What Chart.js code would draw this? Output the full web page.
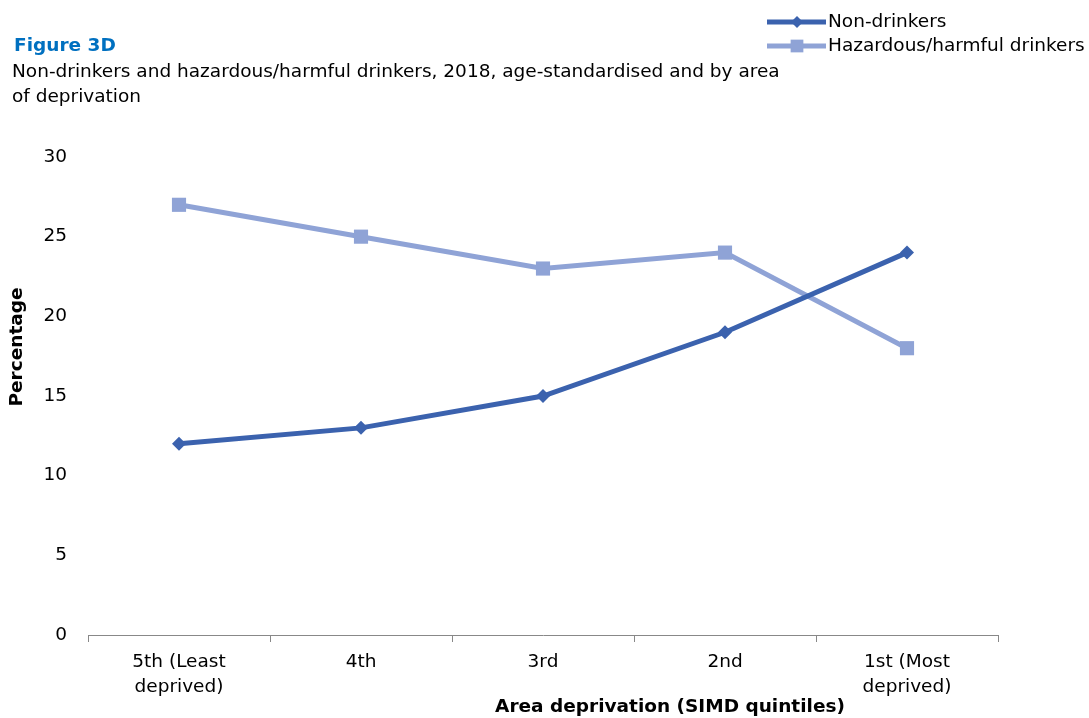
<!DOCTYPE html>
<html>
<head>
<meta charset="utf-8">
<script src="https://cdn.jsdelivr.net/npm/chart.js@4.4.0/dist/chart.umd.min.js"></script>
<style>
  html, body { margin: 0; padding: 0; background: #fff; }
  #wrap { width: 1089px; height: 718px; position: relative; }
</style>
</head>
<body>
<div id="wrap"><canvas id="chart"></canvas></div>
<script>
// === data ===
const categories = [["5th (Least", "deprived)"], "4th", "3rd", "2nd", ["1st (Most", "deprived)"]];
const nonDrinkers = [12, 13, 15, 19, 24];
const hazardousDrinkers = [27, 25, 23, 24, 18];
const seriesNames = ["Non-drinkers", "Hazardous/harmful drinkers"];

const FONT = "'DejaVu Sans', sans-serif";
const DARK = "#3b62ae";
const LIGHT = "#8fa3d6";

// titles, axis titles and legend drawn by hand
const textPlugin = {
  id: "textPlugin",
  afterDraw(chart) {
    const c = chart.ctx;
    c.save();
    c.textBaseline = "middle";
    c.fillStyle = "#0070c0";
    c.font = "bold 18.5px " + FONT;
    c.fillText("Figure 3D", 14, 46);
    c.fillStyle = "#000";
    c.font = "18.5px " + FONT;
    c.fillText("Non-drinkers and hazardous/harmful drinkers, 2018, age-standardised and by area", 12, 72);
    c.fillText("of deprivation", 12, 97);

    // axis titles
    c.font = "bold 18.5px " + FONT;
    c.textAlign = "center";
    c.fillText("Area deprivation (SIMD quintiles)", 670, 707);
    c.translate(17, 347);
    c.rotate(-Math.PI / 2);
    c.fillText("Percentage", 0, 0);
    c.restore();

    // legend
    c.save();
    c.textBaseline = "middle";
    c.font = "18.5px " + FONT;
    chart.data.datasets.forEach((ds, i) => {
      const y = 22 + i * 24;
      c.strokeStyle = ds.borderColor;
      c.lineWidth = ds.borderWidth;
      c.beginPath();
      c.moveTo(767, y);
      c.lineTo(826, y);
      c.stroke();
      c.fillStyle = ds.pointBackgroundColor;
      Chart.helpers.drawPoint(c, { pointStyle: ds.pointStyle, radius: ds.pointRadius - 1, borderWidth: 0 }, 797, y);
      c.fillStyle = "#000";
      c.fillText(ds.label, 828, y);
    });
    c.restore();
  }
};

new Chart(document.getElementById("chart"), {
  type: "line",
  data: {
    labels: categories,
    datasets: [
      {
        label: seriesNames[0],
        data: nonDrinkers,
        borderColor: DARK,
        backgroundColor: DARK,
        pointBackgroundColor: DARK,
        pointBorderWidth: 0,
        borderWidth: 5,
        pointStyle: "rectRot",
        pointRadius: 7,
        tension: 0
      },
      {
        label: seriesNames[1],
        data: hazardousDrinkers,
        borderColor: LIGHT,
        backgroundColor: LIGHT,
        pointBackgroundColor: LIGHT,
        pointBorderWidth: 0,
        borderWidth: 5,
        pointStyle: "rect",
        pointRadius: 10,
        tension: 0
      }
    ]
  },
  options: {
    responsive: true,
    maintainAspectRatio: false,
    animation: false,
    layout: { padding: { top: 157, right: 91, left: 0, bottom: 0 } },
    plugins: {
      legend: { display: false },
      tooltip: { enabled: false }
    },
    scales: {
      x: {
        offset: true,
        grid: { offset: true, drawOnChartArea: false, drawTicks: true, tickLength: 7, color: "#888" },
        border: { display: true, color: "#888", width: 1 },
        ticks: { color: "#000", padding: 8, maxRotation: 0, font: { family: FONT, size: 18.5, lineHeight: 1.35 } },
        afterFit(s) { s.height = 718 - 635; }
      },
      y: {
        min: 0,
        max: 30,
        grid: { display: false },
        border: { display: false },
        ticks: { stepSize: 5, color: "#000", padding: 13, font: { family: FONT, size: 18.5 } },
        afterFit(s) { s.width = 88; }
      }
    }
  },
  plugins: [textPlugin]
});
</script>
</body>
</html>
